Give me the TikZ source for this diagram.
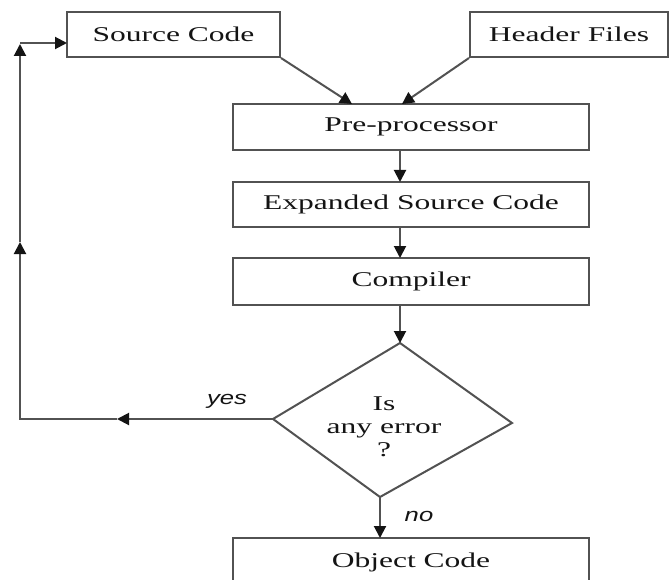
\documentclass[tikz,border=0pt]{standalone}
\usepackage{fontspec}
\setmainfont[FakeStretch=1.5]{Liberation Serif}
\newfontfamily\lblfont[FakeStretch=1.35]{Liberation Sans}
\usetikzlibrary{arrows.meta}
\definecolor{edge}{gray}{0.32}
\definecolor{ink}{gray}{0.08}
\tikzset{
  box/.style={draw=edge, line width=2pt, rectangle, inner sep=0pt, text=ink,
    font=\fontsize{21}{23}\selectfont},
  link/.style={draw=edge, line width=2pt},
  tip/.style={link, -{Triangle[length=12pt,width=12pt,color=ink]}},
  answer/.style={text=ink, font=\lblfont\itshape\fontsize{19}{22}\selectfont}
}
\begin{document}
\begin{tikzpicture}[x=1pt,y=-1pt]
  \useasboundingbox (0,0) rectangle (671,580);
  \clip (0,0) rectangle (671,580);

  % process boxes
  \node[box, minimum width=213pt, minimum height=45pt] (src) at (173.5,34.5) {Source Code};
  \node[box, minimum width=198pt, minimum height=45pt] (hdr) at (569,34.5) {Header Files};
  \node[box, minimum width=356pt, minimum height=46pt] (pre) at (411,127) {Pre-processor};
  \node[box, minimum width=356pt, minimum height=45pt] (exp) at (411,204.5) {Expanded Source Code};
  \node[box, minimum width=356pt, minimum height=47pt] (cmp) at (411,281.5) {Compiler};
  \node[box, minimum width=356pt, minimum height=48pt] (obj) at (411,562) {Object Code};

  % decision diamond
  \coordinate (dt) at (400,343);
  \coordinate (dl) at (273,419);
  \coordinate (dr) at (512,423);
  \coordinate (db) at (380,497);
  \draw[link] (dt) -- (dr) -- (db) -- (dl) -- cycle;
  \node[text=ink, align=center, font=\fontsize{21}{23}\selectfont] (err) at (384,427) {Is\\any error\\?};

  % inputs to the pre-processor
  \coordinate (preA) at (352,104);
  \coordinate (preB) at (402,104);
  \draw[tip] (src.south east) -- (preA);
  \draw[tip] (hdr.south west) -- (preB);

  % main chain
  \draw[tip] (400,150) coordinate (p1) -- (400,182) coordinate (p2);
  \draw[tip] (400,227) coordinate (p3) -- (400,258) coordinate (p4);
  \draw[tip] (400,305) coordinate (p5) -- (dt);

  % no branch
  \coordinate (objin) at (380,538);
  \draw[tip] (db) -- (objin);
  \node[answer] (no) at (419,516) {no};

  % yes branch back to the source code
  \coordinate (ymid) at (117,419);
  \coordinate (ycorner) at (20,419);
  \coordinate (vmid) at (20,242);
  \coordinate (vtop) at (20,44);
  \coordinate (tcorner) at (20,43);
  \coordinate (srcin) at (67,43);
  \draw[tip] (dl) -- (ymid);
  \draw[link] (ymid) -- (ycorner) -- (20,250);
  \draw[tip] (ycorner) -- (vmid);
  \draw[link] (vmid) -- (20,50);
  \draw[tip] (20,60) -- (vtop);
  \draw[tip] (tcorner) -- (srcin);
  \node[answer] (yes) at (227,401) {yes};
\end{tikzpicture}
\end{document}
